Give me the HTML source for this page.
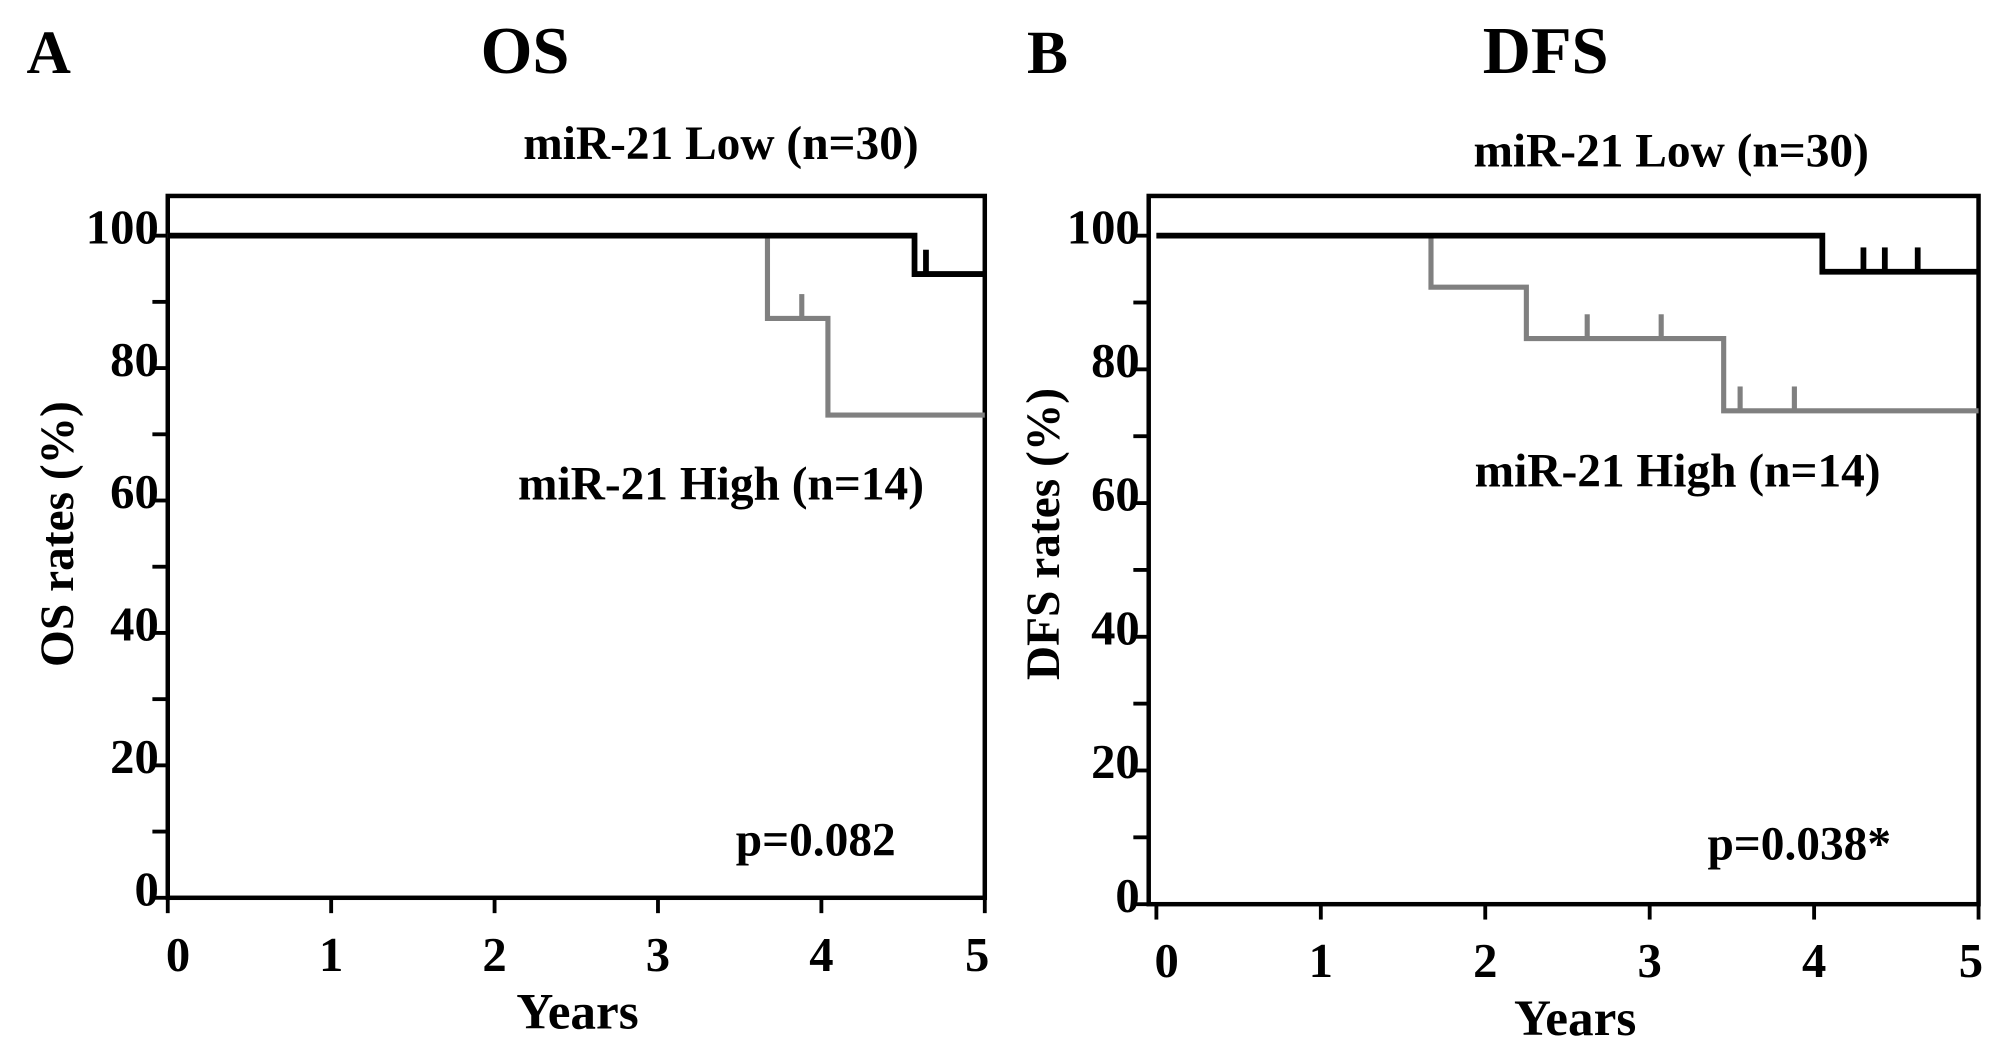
<!DOCTYPE html>
<html><head><meta charset="utf-8"><style>
html,body{margin:0;padding:0;background:#fff;}
svg{display:block;}
text{font-family:"Liberation Serif",serif;font-weight:bold;fill:#000;}
</style></head><body>
<svg id="fig" width="2008" height="1063" viewBox="0 0 1568 830" preserveAspectRatio="none"></svg>
<script>
// Panel A (OS) data
const xTicks = [0,1,2,3,4,5];
const yTicks = [0,20,40,60,80,100];
const osLowSteps = [[0,100],[4.57,94.2]];
const osLowCensor = [4.64];
const osHighSteps = [[0,100],[3.67,87.5],[4.04,72.9]];
const osHighCensor = [3.88];
// Panel B (DFS) data
const dfsLowSteps = [[0,100],[4.05,94.6]];
const dfsLowCensor = [4.3,4.43,4.63];
const dfsHighSteps = [[0,100],[1.67,92.3],[2.25,84.6],[3.45,73.8]];
const dfsHighCensor = [2.62,3.07,3.55,3.88];

const NS="http://www.w3.org/2000/svg";
const svg=document.getElementById('fig');
function el(tag,attrs,parent){const e=document.createElementNS(NS,tag);for(const k in attrs)e.setAttribute(k,attrs[k]);(parent||svg).appendChild(e);return e;}
function txt(s,x,y,size,parent,anchor){const t=el('text',{x:x,y:y,'font-size':size,'text-anchor':anchor||'middle'},parent);t.textContent=s;return t;}

function panel(cfg){
  const g=el('g',{});
  
  
  const xs=v=>cfg.x0+(cfg.x5-cfg.x0)*v/5;
  const ys=v=>cfg.y0-(cfg.y0-cfg.y100)*v/100;
  const fr=el('rect',{x:cfg.L,y:cfg.T,width:cfg.R-cfg.L,height:cfg.B-cfg.T,fill:'none',stroke:'#000','stroke-width':3.5},g);
  
  
  for(let v=0;v<=100;v+=10){
    const t=el('line',{x1:cfg.L-12,x2:cfg.L,y1:ys(v),y2:ys(v),stroke:'#000','stroke-width':3},g);
    
    
  }
  yTicks.forEach(v=>{
    const t=txt(String(v),cfg.L-7,ys(v)+6,38,g,'end');
    
    
  });
  xTicks.forEach(v=>{
    const t=el('line',{x1:xs(v),x2:xs(v),y1:cfg.B,y2:cfg.B+12,stroke:'#000','stroke-width':3},g);
    
    
    const l=txt(String(v),xs(v)+(v===0?8:v===5?-6:0),cfg.B+57,38,g);
    
    
  });
  function curve(steps,cens,color,w,name){
    let d='M'+xs(steps[0][0])+','+ys(steps[0][1]);
    for(let i=1;i<steps.length;i++){d+=' H'+xs(steps[i][0])+' V'+ys(steps[i][1]);}
    d+=' H'+xs(5);
    const p=el('path',{d:d,fill:'none',stroke:color,'stroke-width':w},g);
    
    
    cens.forEach(c=>{
      let yv=steps[0][1];
      steps.forEach(s=>{if(s[0]<=c)yv=s[1];});
      const m=el('line',{x1:xs(c),x2:xs(c),y1:ys(yv),y2:ys(yv)-19,stroke:color,'stroke-width':w},g);
      
      
    });
  }
  curve(cfg.high,cfg.highC,'#808080',4,'mir21-high-curve');
  curve(cfg.low,cfg.lowC,'#000',4.5,'mir21-low-curve');
  const a=txt(cfg.letter,cfg.letterX,57,48,g);
  const ti=txt(cfg.title,cfg.titleX,57,52,g);
  const lo=txt('miR-21 Low (n=30)',cfg.lowLX,cfg.lowLY,37,g);
  const hi=txt('miR-21 High (n=14)',cfg.highLX,cfg.highLY,37,g);
  const pv=txt(cfg.p,cfg.pX,cfg.pY,37,g);
  const xt=txt('Years',cfg.yearsX,cfg.B+102,40,g);
  const yt=txt(cfg.ylab,0,0,37,g);
  yt.setAttribute('transform','translate('+cfg.ylabX+',417) rotate(-90)');
  
}

panel({name:'panel-a-os',L:131,T:153,R:769,B:701,x0:131,x5:769,y0:701,y100:184,
  low:osLowSteps,lowC:osLowCensor,high:osHighSteps,highC:osHighCensor,
  letter:'A',letterX:38,title:'OS',titleX:410,lowLX:563,lowLY:124,highLX:563,highLY:390,
  p:'p=0.082',pX:637,pY:668,yearsX:451,ylab:'OS rates (%)',ylabX:57});
panel({name:'panel-b-dfs',L:897,T:153,R:1545,B:706,x0:903,x5:1545,y0:706,y100:184,
  low:dfsLowSteps,lowC:dfsLowCensor,high:dfsHighSteps,highC:dfsHighCensor,
  letter:'B',letterX:818,title:'DFS',titleX:1207,lowLX:1305,lowLY:130,highLX:1310,highLY:380,
  p:'p=0.038*',pX:1405,pY:671,yearsX:1230,ylab:'DFS rates (%)',ylabX:827});
</script>
</body></html>
